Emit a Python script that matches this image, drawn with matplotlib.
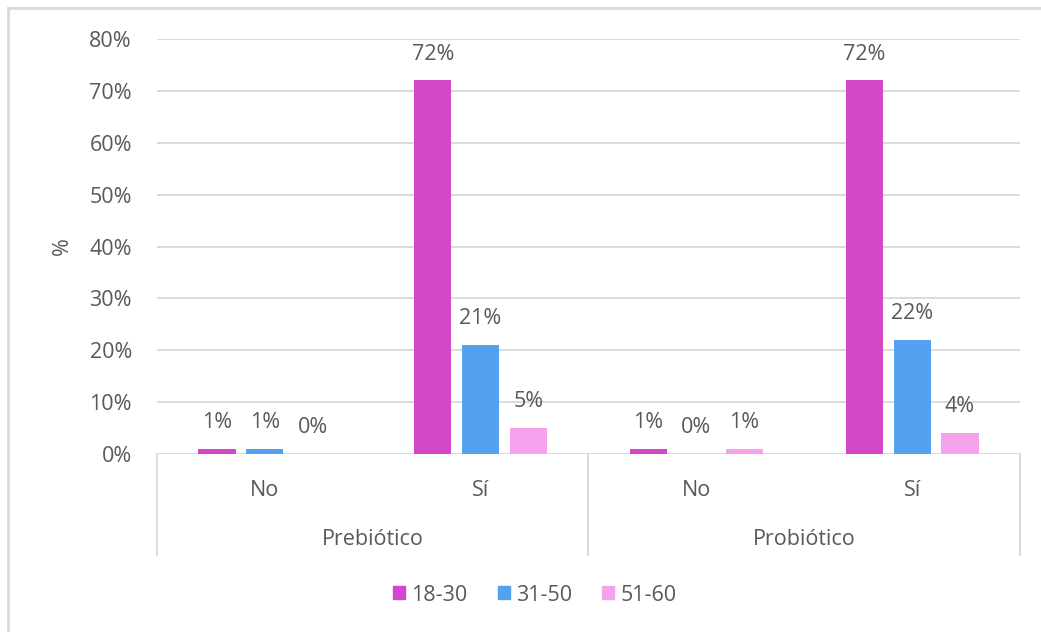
import matplotlib
matplotlib.use("Agg")
from matplotlib import pyplot
from matplotlib.lines import Line2D
from matplotlib.patches import Patch
import numpy

pyplot.rcParams['font.family'] = ['Open Sans', 'DejaVu Sans']

# grupos de edad y sus valores (%) por producto y respuesta
grupos = ['18-30', '31-50', '51-60']
productos = ['Prebiótico', 'Probiótico']
respuestas = ['No', 'Sí']
pre_no = [1, 1, 0]
pre_si = [72, 21, 5]
pro_no = [1, 0, 1]
pro_si = [72, 22, 4]
colores = ['#D447C9', '#55A1F1', '#F5A1EC']
gris = '#595959'
fs = 15.5

valores = numpy.array([pre_no, pre_si, pro_no, pro_si]) / 100.0
n_cat = valores.shape[0]

fig = pyplot.figure(figsize=(10.41, 6.32), dpi=100)
ax = fig.add_axes([0.1508, 0.2816, 0.8290, 0.6567])

ancho = 0.172
paso = 0.222
x = numpy.arange(n_cat)
for j, g in enumerate(grupos):
    xs = x + (j - 1) * paso
    ax.bar(xs, valores[:, j], width=ancho, color=colores[j], label=g, zorder=3)
    for xi, v in zip(xs, valores[:, j]):
        ax.annotate(f'{v*100:.0f}%', (xi, v), xytext=(0, 19), textcoords='offset points',
                    ha='center', va='center', fontsize=fs, color=gris)

ax.set_xlim(-0.5, n_cat - 0.5)
ax.set_ylim(0, 0.8)
ax.set_yticks(numpy.arange(0, 0.81, 0.1))
ax.set_yticklabels([f'{int(round(t*100))}%' for t in numpy.arange(0, 0.81, 0.1)])
ax.tick_params(axis='y', length=0, pad=18, labelsize=fs, labelcolor=gris)
ax.set_xticks([])
ax.grid(axis='y', color='#DADADA', linewidth=1.4, zorder=0)
for s in ax.spines.values():
    s.set_visible(False)
ax.set_ylabel('%', fontsize=fs, color=gris, labelpad=12)

# eje de categorías en dos niveles
tr = ax.get_xaxis_transform()
for i in range(n_cat):
    ax.text(i, -0.087, respuestas[i % 2], transform=tr, ha='center', va='center',
            fontsize=fs, color=gris)
for k, p in enumerate(productos):
    ax.text(2 * k + 0.5, -0.205, p, transform=tr, ha='center', va='center',
            fontsize=fs, color=gris)
for xl in [-0.5, 1.5, 3.5]:
    ax.add_line(Line2D([xl, xl], [0, -0.243], transform=tr, color='#DADADA',
                       linewidth=1.4, clip_on=False))

# leyenda
handles = [Patch(color=c, label=g) for c, g in zip(colores, grupos)]
fig.legend(handles=handles, loc='center', bbox_to_anchor=(0.514, 0.0585), ncol=3,
           frameon=False, fontsize=fs, labelcolor=gris, handlelength=0.55,
           handleheight=0.55, handletextpad=0.3, columnspacing=1.4)

# marco de la figura
fig.add_artist(Line2D([8/1041, 8/1041], [0, 1 - 8/632], transform=fig.transFigure,
                      color='#D9D9D9', linewidth=2))
fig.add_artist(Line2D([8/1041, 1], [1 - 8/632, 1 - 8/632], transform=fig.transFigure,
                      color='#D9D9D9', linewidth=2))

fig.savefig('out.png', dpi=100)
